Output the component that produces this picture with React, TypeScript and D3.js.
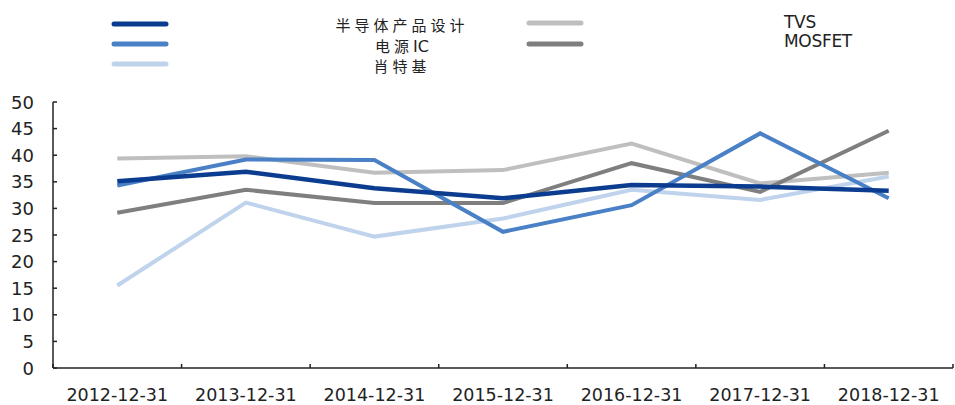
import React from "react";
import * as d3 from "d3";

const categories = [
  "2012-12-31",
  "2013-12-31",
  "2014-12-31",
  "2015-12-31",
  "2016-12-31",
  "2017-12-31",
  "2018-12-31",
];

const seriesNames = ["半导体产品设计", "电源IC", "肖特基", "TVS", "MOSFET"];

const semiDesign = [35.1, 36.9, 33.8, 31.9, 34.4, 34.1, 33.3];
const powerIC = [34.3, 39.2, 39.1, 25.6, 30.6, 44.1, 31.9];
const schottky = [15.5, 31.1, 24.7, 28.1, 33.5, 31.6, 36.0];
const tvs = [39.4, 39.8, 36.7, 37.2, 42.2, 34.7, 36.7];
const mosfet = [29.2, 33.5, 31.0, 31.0, 38.5, 33.1, 44.6];

const yTicks = [0, 5, 10, 15, 20, 25, 30, 35, 40, 45, 50];

const colors = ["#0B3C8F", "#4A80C6", "#BFD3EC", "#BFBFBF", "#7F7F7F"];

const W = 955;
const H = 405;

// split a label into CJK and Latin runs so only the CJK glyphs get spaced out
function runs(label: string) {
  return label.match(/[\u4e00-\u9fff]+|[^\u4e00-\u9fff]+/g) || [];
}

export default function App() {
  const x = d3.scaleBand<string>().domain(categories).range([53, 953]);
  const y = d3.scaleLinear().domain([0, 50]).range([368, 102]);
  const cx = (c: string) => (x(c) as number) + x.bandwidth() / 2;

  const series = [semiDesign, powerIC, schottky, tvs, mosfet];
  const line = d3
    .line<number>()
    .x((_, i) => cx(categories[i]))
    .y((v) => y(v));

  // draw order: lighter series underneath, dark blue on top
  const drawOrder = [3, 4, 2, 1, 0];

  const tickFont = "'DejaVu Sans', sans-serif";
  const textColor = "#222";

  const boundaries = [...categories.map((c) => x(c) as number), x.range()[1]];

  return (
    <svg
      width={W}
      height={H}
      style={{ position: "absolute", left: 0, top: 0, background: "#fff" }}
    >
      {/* legend */}
      <g>
        {[0, 1, 2].map((i) => (
          <line
            key={"ls" + i}
            x1={114}
            x2={166}
            y1={24 + i * 20}
            y2={24 + i * 20}
            stroke={colors[i]}
            strokeWidth={5}
            strokeLinecap="round"
          />
        ))}
        {[0, 1, 2].map((i) => (
          <text
            key={"lt" + i}
            x={402}
            y={31 + i * 20.5}
            textAnchor="middle"
            fontFamily="'Noto Sans CJK SC', sans-serif"
            fontSize={15}
            fill={textColor}
          >
            {runs(seriesNames[i]).map((r, k) =>
              /[\u4e00-\u9fff]/.test(r) ? (
                <tspan key={k} letterSpacing={4}>
                  {r}
                </tspan>
              ) : (
                <tspan key={k} fontFamily={tickFont} fontSize={16}>
                  {r}
                </tspan>
              )
            )}
          </text>
        ))}
        {[3, 4].map((i, k) => (
          <line
            key={"ls" + i}
            x1={529}
            x2={581}
            y1={23 + k * 21}
            y2={23 + k * 21}
            stroke={colors[i]}
            strokeWidth={5}
            strokeLinecap="round"
          />
        ))}
        {[3, 4].map((i, k) => (
          <text
            key={"lt" + i}
            x={784}
            y={28 + k * 19}
            fontFamily={tickFont}
            fontSize={17}
            letterSpacing={-0.3}
            fill={textColor}
          >
            {seriesNames[i]}
          </text>
        ))}
      </g>

      {/* y axis */}
      <g>
        <line x1={53} x2={53} y1={y(50)} y2={y(0)} stroke="#222" strokeWidth={1.5} />
        {yTicks.map((t) => (
          <g key={"yt" + t}>
            <line x1={53} x2={57} y1={y(t)} y2={y(t)} stroke="#222" strokeWidth={1.5} />
            <text
              x={34}
              y={y(t) + 6.5}
              textAnchor="end"
              fontFamily={tickFont}
              fontSize={18}
              fill={textColor}
            >
              {t}
            </text>
          </g>
        ))}
      </g>

      {/* x axis */}
      <g>
        <line x1={53} x2={953} y1={y(0)} y2={y(0)} stroke="#222" strokeWidth={1.5} />
        {boundaries.map((b, i) => (
          <line
            key={"xt" + i}
            x1={b}
            x2={b}
            y1={y(0)}
            y2={y(0) - 4}
            stroke="#222"
            strokeWidth={1.5}
          />
        ))}
        {categories.map((c) => (
          <text
            key={"xl" + c}
            x={cx(c)}
            y={401}
            textAnchor="middle"
            fontFamily={tickFont}
            fontSize={17.5}
            fill={textColor}
          >
            {c}
          </text>
        ))}
      </g>

      {/* series lines */}
      <g fill="none">
        {drawOrder.map((i) => (
          <path
            key={"s" + i}
            d={line(series[i]) as string}
            stroke={colors[i]}
            strokeWidth={i === 0 ? 4.5 : 4}
            strokeLinejoin="miter"
          />
        ))}
      </g>
    </svg>
  );
}
